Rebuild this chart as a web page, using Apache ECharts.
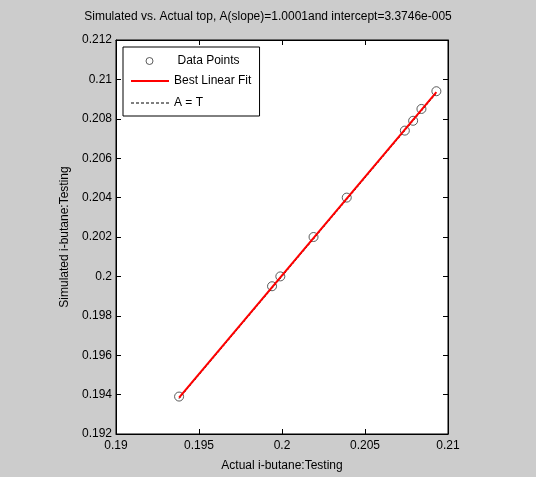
<!DOCTYPE html>
<html><head><meta charset="utf-8">
<script src="https://cdn.jsdelivr.net/npm/echarts@6/dist/echarts.min.js"></script>
<style>html,body{margin:0;padding:0;background:#cccccc;}#c{width:536px;height:477px;}</style>
</head><body><div id="c"></div>
<script>
// Data
var actualT = [0.1938, 0.1994, 0.1999, 0.2019, 0.2039, 0.2074, 0.2079, 0.2084, 0.2093];
var simulatedA = [0.1939, 0.1995, 0.2000, 0.2020, 0.2040, 0.2074, 0.2079, 0.2085, 0.2094];
var fitX = [0.1938, 0.2093];
var fitY = [0.19385, 0.20935];
var idX = [0.1938, 0.2093];
var idY = [0.1938, 0.2093];
var xTicks = ['0.19', '0.195', '0.2', '0.205', '0.21'];
var yTicks = ['0.192', '0.194', '0.196', '0.198', '0.2', '0.202', '0.204', '0.206', '0.208', '0.21', '0.212'];
var titleText = 'Simulated vs. Actual top, A(slope)=1.0001and intercept=3.3746e-005';

function zip(a, b) { return a.map(function (v, i) { return [v, b[i]]; }); }
var FONT = 'Liberation Sans';

// legend icon shapes (style only)
var circleIcon = 'path://M0,0 M38,8 M15.5,4 A3.5,3.5 0 1,1 22.5,4 A3.5,3.5 0 1,1 15.5,4 Z';
var dashIcon = 'path://';
for (var d = 0; d < 38; d += 5) { dashIcon += 'M' + d + ',0h' + Math.min(3, 38 - d) + 'v1h-' + Math.min(3, 38 - d) + 'z'; }
dashIcon += 'M38,0';

var chart = echarts.init(document.getElementById('c'), null, {renderer: 'canvas'});
var axisCommon = {
  axisLine: {show: true, onZero: false, lineStyle: {color: '#000', width: 1}},
  axisTick: {show: true, inside: true, length: 5, lineStyle: {color: '#000'}},
  splitLine: {show: false}
};
var legendText = {fontFamily: FONT, fontSize: 12, color: '#000'};
chart.setOption({
  backgroundColor: '#cccccc',
  animation: false,
  title: {text: titleText, left: 'center', top: 6,
    textStyle: {fontFamily: FONT, fontSize: 12, fontWeight: 'normal', color: '#000'}},
  grid: {left: 116, top: 40, width: 332, height: 395, show: true, backgroundColor: '#fff', borderColor: '#000', borderWidth: 1},
  xAxis: [
    Object.assign({type: 'value', min: 0.19, max: 0.21, interval: 0.005, position: 'bottom',
      name: 'Actual i-butane:Testing', nameLocation: 'middle', nameGap: 26,
      nameTextStyle: {fontFamily: FONT, fontSize: 12, color: '#000'},
      axisLabel: {fontFamily: FONT, fontSize: 12, color: '#000', margin: 6,
        formatter: function (v) { var i = Math.round((v - 0.19) / 0.005); return xTicks[i] || ''; }}}, axisCommon),
    Object.assign({type: 'value', min: 0.19, max: 0.21, interval: 0.005, position: 'top', axisLabel: {show: false}}, axisCommon)
  ],
  yAxis: [
    Object.assign({type: 'value', min: 0.192, max: 0.212, interval: 0.002, position: 'left',
      name: 'Simulated i-butane:Testing', nameLocation: 'middle', nameGap: 45,
      nameTextStyle: {fontFamily: FONT, fontSize: 12, color: '#000'},
      axisLabel: {fontFamily: FONT, fontSize: 12, color: '#000', margin: 4,
        formatter: function (v) { var i = Math.round((v - 0.192) / 0.002); return yTicks[i] || ''; }}}, axisCommon),
    Object.assign({type: 'value', min: 0.192, max: 0.212, interval: 0.002, position: 'right', axisLabel: {show: false}}, axisCommon)
  ],
  legend: [
    {data: [{name: 'Data Points', icon: circleIcon, itemStyle: {color: 'rgba(0,0,0,0)', borderColor: '#333', borderWidth: 1}}],
      orient: 'vertical', left: 123, top: 47, padding: [8, 20, 49, 7],
      backgroundColor: '#fff', borderColor: '#000', borderWidth: 1, borderRadius: 0,
      itemWidth: 38, itemHeight: 8, selectedMode: false, z: 5,
      textStyle: Object.assign({padding: [0, 0, 0, 4]}, legendText)},
    {data: [{name: 'Best Linear Fit', icon: 'rect'}], orient: 'vertical', left: 131, top: 75, padding: 0,
      itemWidth: 38, itemHeight: 2, selectedMode: false, z: 6, textStyle: legendText},
    {data: [{name: 'A = T', icon: dashIcon}], orient: 'vertical', left: 131, top: 97, padding: 0,
      itemWidth: 38, itemHeight: 1, selectedMode: false, z: 6, textStyle: legendText}
  ],
  series: [
    {name: 'Data Points', type: 'scatter', data: zip(actualT, simulatedA), symbol: 'circle', symbolSize: 9, z: 2,
      itemStyle: {color: 'rgba(0,0,0,0)', borderColor: '#333', borderWidth: 1}},
    {name: 'A = T', type: 'line', data: zip(idX, idY), symbol: 'none', z: 3,
      lineStyle: {color: '#000', width: 1, type: [2, 2]}, itemStyle: {color: '#000'}},
    {name: 'Best Linear Fit', type: 'line', data: zip(fitX, fitY), symbol: 'none', z: 4,
      lineStyle: {color: '#ff0000', width: 2}, itemStyle: {color: '#ff0000'}}
  ]
});
</script></body></html>
